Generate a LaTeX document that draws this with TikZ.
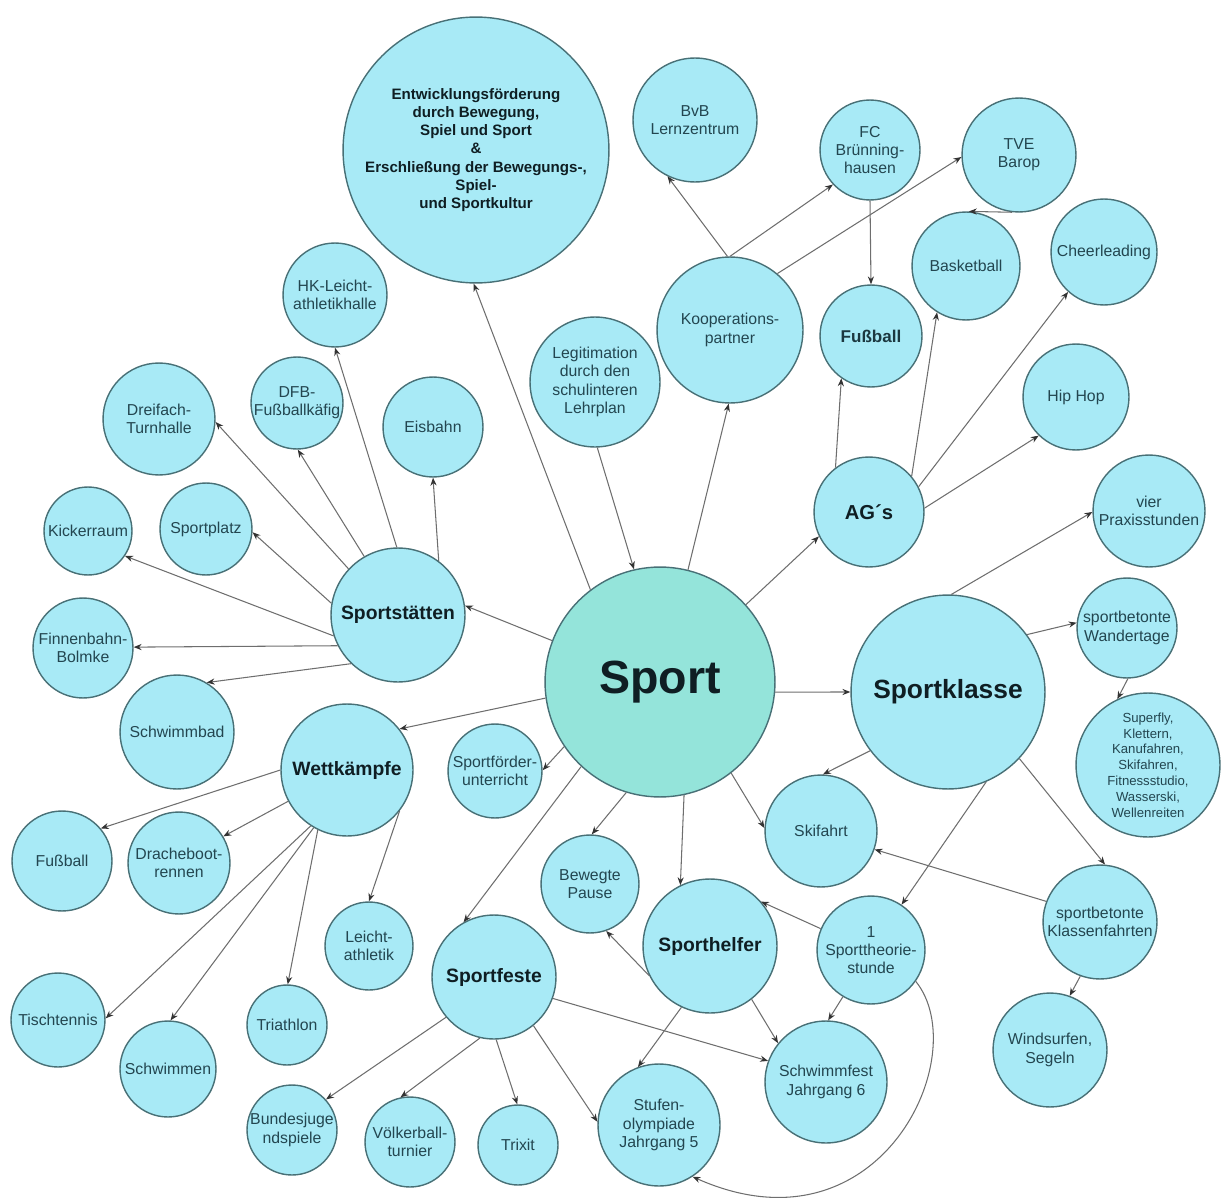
\documentclass[tikz,border=0pt]{standalone}
\usepackage{fontspec}
\setmainfont{Liberation Sans}
\usetikzlibrary{arrows.meta}

\definecolor{bubblefill}{RGB}{168,234,246}
\definecolor{sportfill}{RGB}{148,228,218}
\definecolor{bubbleline}{RGB}{72,112,118}
\definecolor{linkgray}{RGB}{110,110,110}
\definecolor{labeltext}{RGB}{35,70,80}
\definecolor{titletext}{RGB}{15,30,35}

\tikzset{
  bubble/.style={circle, draw=bubbleline, line width=0.8pt, fill=bubblefill, inner sep=0pt, align=center, text=labeltext, font=\fontsize{9}{10.4}\selectfont, minimum size=#1*0.04cm},
  hub/.style={bubble=#1, text=titletext, font=\bfseries\fontsize{11}{13}\selectfont},
  conn/.style={->, draw=linkgray, line width=0.6pt},
}

\begin{document}
\begin{tikzpicture}[x=0.02cm, y=-0.02cm, >={Stealth[length=4.5pt,width=3.5pt,color=black!80]}]
    \useasboundingbox (0,0) rectangle (1224,1203);

    \node[hub=133, font=\bfseries\fontsize{8.6}{10.4}\selectfont] (entw) at (476,150) {Entwicklungsförderung\\durch Bewegung,\\Spiel und Sport\\\&\\Erschließung der Bewegungs-,\\Spiel-\\und Sportkultur};
    \node[hub=115, fill=sportfill, font=\bfseries\fontsize{26.5}{30}\selectfont] (sport) at (660,682) {Sport};
    \node[bubble=65] (legit) at (595,382) {Legitimation\\durch den\\schulinteren\\Lehrplan};

    \node[bubble=73] (koop) at (730,330) {Kooperations-\\partner};
    \node[bubble=62] (bvb) at (695,120) {BvB\\Lernzentrum};
    \node[bubble=50] (fc) at (870,150) {FC\\Brünning-\\hausen};
    \node[bubble=57] (tve) at (1019,155) {TVE\\Barop};

    \node[hub=55, font=\bfseries\fontsize{11.5}{13}\selectfont] (ags) at (869,512) {AG´s};
    \node[hub=51, font=\bfseries\fontsize{9.7}{12}\selectfont, text=labeltext!80!black] (fussAG) at (871,336) {Fußball};
    \node[bubble=54] (basket) at (966,266) {Basketball};
    \node[bubble=53] (cheer) at (1104,252) {Cheerleading};
    \node[bubble=53] (hiphop) at (1076,397) {Hip Hop};

    \node[hub=97, font=\bfseries\fontsize{15}{18}\selectfont] (sklasse) at (948,692) {Sportklasse};
    \node[bubble=56] (vier) at (1149,511) {vier\\Praxisstunden};
    \node[bubble=50] (wander) at (1127,628) {sportbetonte\\Wandertage};
    \node[bubble=72, font=\fontsize{7.5}{9}\selectfont] (superfly) at (1148,765) {Superfly,\\Klettern,\\Kanufahren,\\Skifahren,\\Fitnessstudio,\\Wasserski,\\Wellenreiten};
    \node[bubble=56] (ski) at (821,831) {Skifahrt};
    \node[bubble=57] (klassenf) at (1100,922) {sportbetonte\\Klassenfahrten};
    \node[bubble=57] (wind) at (1050,1050) {Windsurfen,\\Segeln};
    \node[bubble=54] (theorie) at (871,950) {1\\Sporttheorie-\\stunde};
    \node[bubble=61] (schwimmf) at (826,1082) {Schwimmfest\\Jahrgang 6};

    \node[hub=67] (helfer) at (710,946) {Sporthelfer};
    \node[bubble=49] (pause) at (590,884) {Bewegte\\Pause};
    \node[bubble=61] (stufen) at (659,1125) {Stufen-\\olympiade\\Jahrgang 5};
    \node[hub=62] (feste) at (494,977) {Sportfeste};
    \node[bubble=40] (trixit) at (518,1145) {Trixit};
    \node[bubble=45] (voelker) at (410,1142) {Völkerball-\\turnier};
    \node[bubble=45] (bundes) at (292,1130) {Bundesjuge\\ndspiele};
    \node[bubble=47] (foerder) at (495,771) {Sportförder-\\unterricht};

    \node[hub=66] (wett) at (347,770) {Wettkämpfe};
    \node[bubble=50] (fussW) at (62,861) {Fußball};
    \node[bubble=51] (drache) at (179,863) {Dracheboot-\\rennen};
    \node[bubble=44] (leicht) at (369,946) {Leicht-\\athletik};
    \node[bubble=47] (tisch) at (58,1020) {Tischtennis};
    \node[bubble=48] (schwimmen) at (168,1069) {Schwimmen};
    \node[bubble=40] (triath) at (287,1025) {Triathlon};

    \node[hub=67] (staetten) at (398,615) {Sportstätten};
    \node[bubble=57] (schwimmbad) at (177,732) {Schwimmbad};
    \node[bubble=50] (finnen) at (83,648) {Finnenbahn-\\Bolmke};
    \node[bubble=44] (kicker) at (88,531) {Kickerraum};
    \node[bubble=46] (platz) at (206,529) {Sportplatz};
    \node[bubble=56] (dreifach) at (159,419) {Dreifach-\\Turnhalle};
    \node[bubble=46] (dfb) at (297,403) {DFB-\\Fußballkäfig};
    \node[bubble=52] (hk) at (335,295) {HK-Leicht-\\athletikhalle};
    \node[bubble=50] (eis) at (433,427) {Eisbahn};

    \draw[conn] (sport.127) -- (entw.269);
    \draw[conn] (legit.272) -- (sport.103);
    \draw[conn] (sport.76) -- (koop.269);
    \draw[conn] (sport.42) -- (ags.206);
    \draw[conn] (sport.355) -- (sklasse.180);
    \draw[conn] (sport.308) -- (ski.177);
    \draw[conn] (sport.214) -- (foerder.1);
    \draw[conn] (sport.227) -- (feste.119);
    \draw[conn] (sport.253) -- (pause.88);
    \draw[conn] (sport.282) -- (helfer.116);
    \draw[conn] (sport.159) -- (staetten.8);
    \draw[conn] (sport.188) -- (wett.38);

    \draw[conn] (koop.92) -- (bvb.244);
    \draw[conn] (koop.90) -- (fc.223);
    \draw[conn] (koop.50) -- (tve.182);
    \draw[conn] (fc.270) -- (fussAG.90);
    \draw[conn] (tve.263) -- (basket.87);

    \draw[conn] (ags.127) -- (fussAG.235);
    \draw[conn] (ags.40) -- (basket.238);
    \draw[conn] (ags.27) -- (cheer.228);
    \draw[conn] (ags.4) -- (hiphop.226);

    \draw[conn] (sklasse.88) -- (vier.181);
    \draw[conn] (sklasse.36) -- (wander.174);
    \draw[conn] (wander.271) -- (superfly.115);
    \draw[conn] (sklasse.217) -- (ski.88);
    \draw[conn] (sklasse.317) -- (klassenf.85);
    \draw[conn] (sklasse.293) -- (theorie.56);
    \draw[conn] (klassenf.159) -- (ski.341);
    \draw[conn] (klassenf.250) -- (wind.70);

    \draw[conn] (theorie.157) -- (helfer.41);
    \draw[conn] (theorie.239) -- (schwimmf.88);
    \draw[conn] (theorie.325) .. controls (975,1055) and (880,1260) .. (stufen.303);

    \draw[conn] (helfer.206) -- (pause.289);
    \draw[conn] (helfer.308) -- (schwimmf.141);
    \draw[conn] (helfer.245) -- (stufen.110);

    \draw[conn] (feste.340) -- (schwimmf.160);
    \draw[conn] (feste.309) -- (stufen.177);
    \draw[conn] (feste.272) -- (trixit.91);
    \draw[conn] (feste.257) -- (voelker.102);
    \draw[conn] (feste.220) -- (bundes.42);

    \draw[conn] (wett.180) -- (fussW.40);
    \draw[conn] (wett.208) -- (drache.31);
    \draw[conn] (wett.237) -- (tisch.2);
    \draw[conn] (wett.240) -- (schwimmen.87);
    \draw[conn] (wett.244) -- (triath.89);
    \draw[conn] (wett.322) -- (leicht.90);

    \draw[conn] (staetten.226) -- (schwimmbad.59);
    \draw[conn] (staetten.207) -- (finnen.1);
    \draw[conn] (staetten.198) -- (kicker.326);
    \draw[conn] (staetten.170) -- (platz.356);
    \draw[conn] (staetten.137) -- (dreifach.357);
    \draw[conn] (staetten.120) -- (dfb.271);
    \draw[conn] (staetten.91) -- (hk.270);
    \draw[conn] (staetten.53) -- (eis.270);
\end{tikzpicture}
\end{document}
